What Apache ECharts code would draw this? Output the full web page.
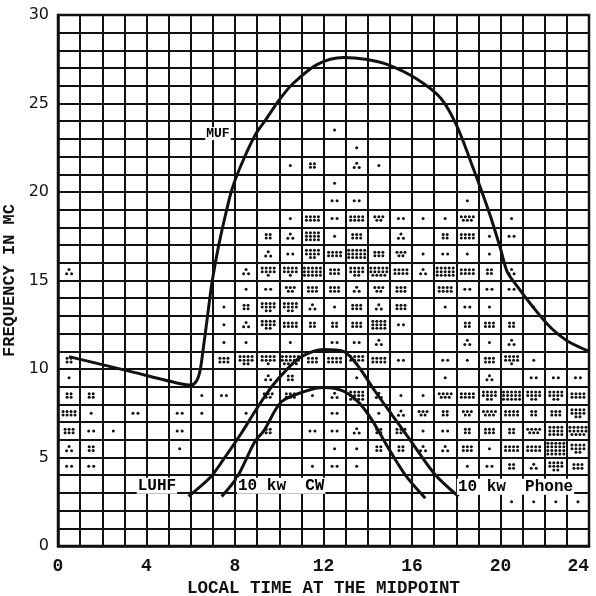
<!DOCTYPE html>
<html><head><meta charset="utf-8">
<script src="https://cdn.jsdelivr.net/npm/echarts@6/dist/echarts.min.js"></script>
<style>html,body{margin:0;padding:0;background:#fff}#c{width:596px;height:596px}</style>
</head><body><div id="c"></div>
<script>
// Observation counts per one-hour / one-Mc cell (index = hour 0..23)
const f23 = [0,0,0,0,0,0,0,0,0,0,0,0,1,0,0,0,0,0,0,0,0,0,0,0];
const f22 = [0,0,0,0,0,0,0,0,0,0,0,0,0,1,0,0,0,0,0,0,0,0,0,0];
const f21 = [0,0,0,0,0,0,0,0,0,0,1,4,0,3,1,0,0,0,0,0,0,0,0,0];
const f20 = [0,0,0,0,0,0,0,0,0,0,0,0,1,0,0,0,0,0,0,0,0,0,0,0];
const f19 = [0,0,0,0,0,0,0,0,0,0,0,0,2,2,0,0,0,0,1,0,0,0,0,0];
const f18 = [0,0,0,0,0,0,0,0,0,0,1,8,2,8,5,2,1,1,7,0,1,0,0,0];
const f17 = [0,0,0,0,0,0,0,0,0,4,3,12,1,6,0,3,0,4,8,1,2,0,0,0];
const f16 = [0,0,0,0,0,0,0,0,0,3,2,10,8,15,6,5,1,2,1,1,0,0,0,0];
const f15 = [3,0,0,0,0,0,0,0,3,9,9,15,6,10,14,8,3,15,8,4,3,0,0,0];
const f14 = [0,0,0,0,0,0,0,0,1,2,5,6,6,3,5,6,0,8,2,2,2,0,0,0];
const f13 = [0,0,0,0,0,0,0,1,4,10,10,3,1,6,3,6,0,1,2,1,0,1,0,0];
const f12 = [0,0,0,0,0,0,0,1,3,10,8,4,4,6,12,2,0,0,4,6,4,0,0,0];
const f11 = [0,0,0,0,0,0,0,1,1,0,1,0,2,2,3,0,0,0,3,1,3,0,0,0];
const f10 = [4,0,0,0,0,0,0,6,10,9,14,6,8,9,8,2,0,2,1,6,9,1,0,0];
const f9  = [1,0,0,0,0,0,0,0,0,3,4,0,0,1,0,0,0,1,0,3,0,2,2,2];
const f8  = [4,4,0,0,0,0,1,2,0,5,6,1,3,12,3,1,1,7,8,10,15,10,10,8];
const f7  = [8,1,0,2,0,2,1,0,1,0,0,0,2,0,1,3,5,4,5,7,8,4,6,10];
const f6  = [6,2,1,0,0,2,0,0,0,4,0,2,2,3,4,6,1,2,4,6,4,7,12,14];
const f5  = [3,4,0,0,0,1,0,0,0,0,0,0,1,1,4,4,3,3,6,1,8,8,20,10];
const f4  = [2,2,0,0,0,0,0,0,0,0,0,1,2,1,0,0,0,0,1,2,4,3,10,6];
const f3  = [0,0,0,0,0,0,0,0,0,0,0,0,0,0,0,0,0,0,0,0,0,0,0,0];
const f2  = [0,0,0,0,0,0,0,0,0,0,0,0,0,0,0,0,0,0,0,0,1,1,1,1];
const freqRows = [[2,f2],[3,f3],[4,f4],[5,f5],[6,f6],[7,f7],[8,f8],[9,f9],[10,f10],[11,f11],[12,f12],[13,f13],[14,f14],[15,f15],[16,f16],[17,f17],[18,f18],[19,f19],[20,f20],[21,f21],[22,f22],[23,f23]];

// Curves: [local time, frequency Mc]
const mufCurve = [[0.5,10.7],[3.3,9.85],[5.6,9.15],[6.0,9.1],[6.25,9.3],[6.42,9.9],[6.57,11.2],[6.75,12.9],[6.95,14.8],[7.25,16.9],[7.55,18.6],[7.85,20.1],[8.2,21.3],[8.9,23.2],[9.4,24.1],[10.0,25.2],[10.6,26.1],[11.7,27.2],[12.9,27.6],[13.9,27.5],[14.9,27.2],[16.2,26.4],[17.3,25.3],[18.0,23.8],[18.75,21.4],[19.5,18.8],[20.0,16.8],[20.3,15.5],[20.8,14.6],[21.6,13.3],[22.3,12.3],[23.0,11.6],[24.0,11.0]];
const luhfPhone = [[5.9,2.8],[6.9,3.9],[7.4,4.75],[8.3,6.4],[8.9,7.6],[9.66,9.0],[10.4,10.05],[11.0,10.7],[12.0,11.1],[12.9,11.0],[13.6,10.1],[14.3,8.8],[15.1,7.4],[15.8,6.2],[17.0,4.1],[18.1,2.8]];
const luhfCW = [[7.4,2.8],[8.1,3.9],[8.9,5.9],[9.3,6.5],[10.1,8.15],[11.2,8.75],[12.0,8.95],[12.9,8.75],[13.6,8.1],[14.2,7.1],[14.9,5.6],[15.7,4.0],[16.6,2.7]];
const labelTexts = ['MUF', 'LUHF', '10 kw  CW', '10 kw  Phone'];
const labelX = [7.23, 4.47, 8.09, 18.03];
const labelY = [23.3, 3.4, 3.4, 3.35];
const xTickStep = 4, yTickStep = 5;

const cells = [];
freqRows.forEach(([f, row]) => row.forEach((n, h) => { if (n > 0) cells.push([h, f, n]); }));
const labelData = labelTexts.map((t, i) => [labelX[i], labelY[i], i]);

function dotOffsets(n) {
  const sx = 4, sy = 3.6;
  if (n === 1) return [[0,0]];
  if (n === 2) return [[-2.5,0],[2.5,0]];
  if (n === 3) return [[0,-2.2],[-2.5,2],[2.5,2]];
  let cols = n <= 4 ? 2 : n <= 6 ? 3 : n <= 12 ? 4 : 5;
  const rows = Math.ceil(n / cols);
  const out = [];
  for (let i = 0; i < n; i++) {
    const r = Math.floor(i / cols), c = i % cols;
    const inRow = (r === rows - 1) ? n - r * cols : cols;
    out.push([(c - (inRow - 1) / 2) * sx, (r - (rows - 1) / 2) * sy]);
  }
  return out;
}

const chart = echarts.init(document.getElementById('c'), null, {renderer: 'canvas'});
const monoB = {fontFamily: 'Liberation Mono', fontWeight: 'bold', color: '#111'};
chart.setOption({
  animation: false,
  backgroundColor: '#fff',
  grid: {left: 58, top: 15, right: 7, bottom: 50, containLabel: false, outerBoundsMode: 'none',
         show: true, borderColor: '#111', borderWidth: 2.5},
  xAxis: {
    type: 'value', min: 0, max: 24, interval: 1,
    axisLine: {lineStyle: {color: '#111', width: 2.5}},
    axisTick: {show: false},
    splitLine: {lineStyle: {color: '#111', width: 2}},
    axisLabel: Object.assign({fontSize: 18, margin: 11, alignMaxLabel: 'right', formatter: v => (v % xTickStep === 0 ? String(v) : '')}, monoB),
    name: 'LOCAL TIME AT THE MIDPOINT', nameLocation: 'middle', nameGap: 30,
    nameTextStyle: Object.assign({fontSize: 17.5}, monoB)
  },
  yAxis: {
    type: 'value', min: 0, max: 30, interval: 1,
    axisLine: {show: true, lineStyle: {color: '#111', width: 2.5}},
    axisTick: {show: false},
    splitLine: {lineStyle: {color: '#111', width: 2}},
    axisLabel: {fontSize: 16, margin: 9, color: '#111', fontFamily: 'DejaVu Sans', formatter: v => (v % yTickStep === 0 ? String(v) : '')},
    name: 'FREQUENCY IN MC', nameLocation: 'middle', nameGap: 36,
    nameTextStyle: Object.assign({fontSize: 17}, monoB)
  },
  series: [
    {
      type: 'custom', data: cells, z: 3, silent: true,
      renderItem: (params, api) => {
        const c = api.coord([api.value(0) + 0.5, api.value(1) + 0.5]);
        const n = api.value(2);
        return {type: 'group', children: dotOffsets(n).map(([dx, dy]) => ({
          type: 'circle', shape: {cx: c[0] + dx, cy: c[1] + dy, r: 1.5}, style: {fill: '#111'}
        }))};
      }
    },
    {type: 'line', data: mufCurve, smooth: 0.3, symbol: 'none', z: 5, silent: true, lineStyle: {color: '#111', width: 3}},
    {type: 'line', data: luhfPhone, smooth: 0.3, symbol: 'none', z: 5, silent: true, lineStyle: {color: '#111', width: 3}},
    {type: 'line', data: luhfCW, smooth: 0.3, symbol: 'none', z: 5, silent: true, lineStyle: {color: '#111', width: 3}},
    {
      type: 'custom', data: labelData, z: 6, silent: true,
      renderItem: (params, api) => {
        const p = api.coord([api.value(0), api.value(1)]);
        const t = labelTexts[api.value(2)];
        return {
          type: 'text', x: p[0], y: p[1],
          style: {
            text: t, fill: '#000', fontFamily: 'Liberation Mono', fontWeight: 'bold',
            fontSize: t === 'MUF' ? 13 : 16,
            align: t.startsWith('10') ? 'left' : 'center', verticalAlign: 'middle',
            backgroundColor: '#fff', padding: [0, 1]
          }
        };
      }
    }
  ]
});
</script></body></html>
